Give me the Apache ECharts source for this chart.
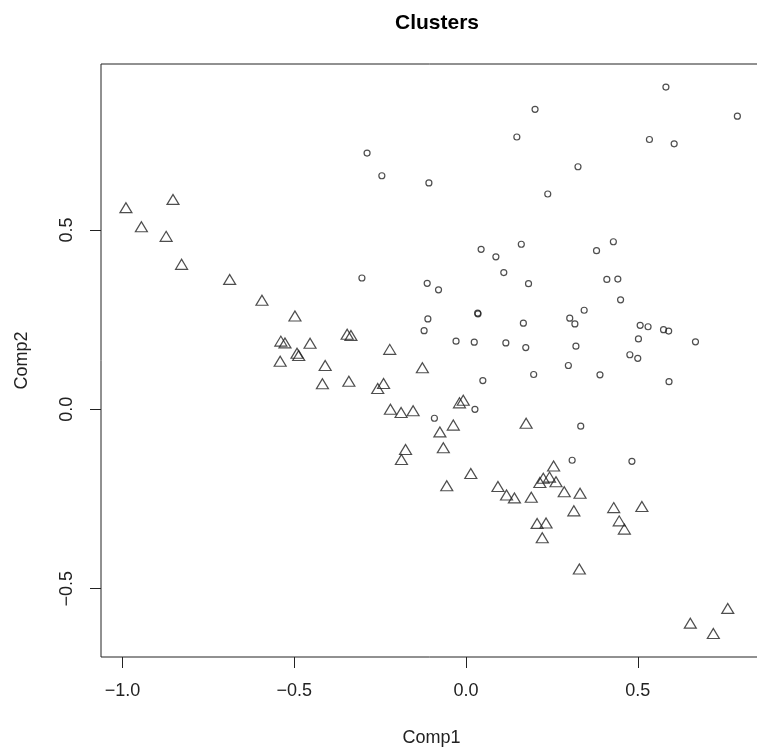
<!DOCTYPE html>
<html>
<head>
<meta charset="utf-8">
<script src="https://cdn.jsdelivr.net/npm/echarts@6/dist/echarts.min.js"></script>
<style>
  html, body { margin: 0; padding: 0; background: #fff; }
  #chart { width: 757px; height: 754px; }
</style>
</head>
<body>
<div id="chart"></div>
<script>
// Cluster 1 (open circles): Comp1 / Comp2 scores
const circleComp1 = [
  -0.288, -0.245, -0.303, -0.113, -0.122, 0.582, 0.201, 0.790, 0.148, 0.534,
  0.606, 0.326, -0.108, 0.238, 0.044, 0.087, 0.161, 0.429, 0.380, 0.110,
  -0.080, 0.182, 0.410, 0.442, 0.450, -0.111, 0.034, 0.035, 0.344, 0.302,
  0.317, 0.167, 0.507, 0.530, 0.575, 0.590, 0.502, -0.029, 0.024, 0.116,
  0.174, 0.320, 0.668, 0.477, 0.500, 0.298, 0.197, 0.390, 0.591, 0.049,
  0.026, -0.092, 0.334, 0.309, 0.483
];
const circleComp2 = [
  0.714, 0.651, 0.366, 0.351, 0.219, 0.898, 0.836, 0.817, 0.759, 0.752,
  0.740, 0.676, 0.631, 0.600, 0.446, 0.425, 0.460, 0.467, 0.442, 0.381,
  0.333, 0.350, 0.362, 0.363, 0.305, 0.252, 0.268, 0.266, 0.276, 0.254,
  0.238, 0.240, 0.234, 0.230, 0.222, 0.218, 0.196, 0.190, 0.187, 0.185,
  0.172, 0.176, 0.188, 0.152, 0.142, 0.122, 0.097, 0.096, 0.077, 0.080,
  0.000, -0.025, -0.047, -0.142, -0.145
];

// Cluster 2 (open triangles): Comp1 / Comp2 scores
const triangleComp1 = [
  -0.990, -0.853, -0.945, -0.873, -0.828, -0.688, -0.594, -0.498, -0.346, -0.335,
  -0.539, -0.527, -0.454, -0.222, -0.492, -0.487, -0.541, -0.410, -0.127, -0.418,
  -0.341, -0.257, -0.240, -0.220, -0.189, -0.154, -0.176, -0.188, -0.019, -0.008,
  -0.037, -0.076, 0.175, -0.066, 0.014, -0.056, 0.093, 0.118, 0.141, 0.190,
  0.255, 0.225, 0.215, 0.243, 0.262, 0.286, 0.332, 0.314, 0.430, 0.512,
  0.446, 0.461, 0.207, 0.233, 0.222, 0.330, 0.762, 0.653, 0.720
];
const triangleComp2 = [
  0.562, 0.585, 0.509, 0.482, 0.404, 0.362, 0.304, 0.260, 0.209, 0.206,
  0.190, 0.185, 0.184, 0.167, 0.156, 0.150, 0.134, 0.122, 0.116, 0.071,
  0.078, 0.058, 0.072, 0.000, -0.009, -0.004, -0.112, -0.140, 0.018, 0.025,
  -0.044, -0.063, -0.039, -0.107, -0.179, -0.213, -0.215, -0.239, -0.247, -0.245,
  -0.158, -0.192, -0.204, -0.189, -0.202, -0.230, -0.234, -0.283, -0.274, -0.271,
  -0.311, -0.334, -0.318, -0.317, -0.358, -0.445, -0.555, -0.596, -0.625
];

// Tick values on each axis
const xTicks = [-1.0, -0.5, 0.0, 0.5];
const yTicks = [-0.5, 0.0, 0.5];

const zip = (xs, ys) => xs.map((x, i) => [x, ys[i]]);
const fmt = v => v.toFixed(1).replace('-', '\u2212');

const FONT = '"Liberation Sans", Arial, Helvetica, sans-serif';
const INK = '#222';

const hollow = {
  color: 'rgba(0,0,0,0)',
  borderColor: INK,
  borderWidth: 1.2
};

const chart = echarts.init(document.getElementById('chart'), null, { renderer: 'canvas' });

chart.setOption({
  animation: false,
  backgroundColor: '#fff',
  title: {
    text: 'Clusters',
    left: 432,
    top: 8,
    textAlign: 'center',
    textStyle: { fontFamily: FONT, fontWeight: 'bold', fontSize: 21, color: '#000' }
  },
  grid: {
    left: 101,
    top: 64,
    width: 661,
    height: 593,
    containLabel: false,
    outerBoundsMode: 'none',
    show: true,
    borderColor: INK,
    borderWidth: 1,
    backgroundColor: 'transparent'
  },
  xAxis: {
    type: 'value',
    min: -1.0626,
    max: 0.8617,
    name: 'Comp1',
    nameLocation: 'middle',
    nameGap: 72,
    nameTextStyle: { fontFamily: FONT, fontSize: 18, color: '#222' },
    splitLine: { show: false },
    axisLine: { show: false, onZero: false },
    axisTick: {
      show: true, inside: false, length: 11,
      customValues: xTicks,
      lineStyle: { color: INK, width: 1 }
    },
    axisLabel: {
      customValues: xTicks,
      formatter: fmt,
      margin: 25,
      fontFamily: FONT,
      fontSize: 18,
      color: '#222'
    }
  },
  yAxis: {
    type: 'value',
    min: -0.6904,
    max: 0.9624,
    name: 'Comp2',
    nameLocation: 'middle',
    nameGap: 70,
    nameRotate: 90,
    nameTextStyle: { fontFamily: FONT, fontSize: 18, color: '#222' },
    splitLine: { show: false },
    axisLine: { show: false, onZero: false },
    axisTick: {
      show: true, inside: false, length: 11,
      customValues: yTicks,
      lineStyle: { color: INK, width: 1 }
    },
    axisLabel: {
      customValues: yTicks,
      formatter: fmt,
      rotate: 90,
      margin: 25,
      fontFamily: FONT,
      fontSize: 18,
      color: '#222'
    }
  },
  series: [
    {
      name: 'cluster 1',
      type: 'scatter',
      symbol: 'circle',
      symbolSize: 6,
      itemStyle: hollow,
      emphasis: { disabled: true },
      data: zip(circleComp1, circleComp2)
    },
    {
      name: 'cluster 2',
      type: 'scatter',
      symbol: 'triangle',
      symbolSize: [12, 10],
      itemStyle: hollow,
      emphasis: { disabled: true },
      data: zip(triangleComp1, triangleComp2)
    }
  ]
});
</script>
</body>
</html>
